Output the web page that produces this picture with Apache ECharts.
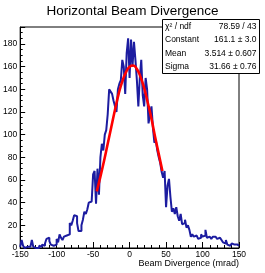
<!DOCTYPE html>
<html>
<head>
<meta charset="utf-8">
<script src="https://cdn.jsdelivr.net/npm/echarts@6/dist/echarts.min.js"></script>
<style>html,body{margin:0;padding:0;background:#fff}#c{width:265px;height:273px}</style>
</head>
<body>
<div id="c"></div>
<script>
// Histogram: 150 bins of 2 mrad from -150 to 150
const binLow = -150;
const binWidth = 2;
const counts = [
  1,7,2,0,1,0,1,0,7,1,
  0,1,0,2,1,3,2,4,8,9,
  6,3,2,1,3,8,5,12,9,7,
  10,11,12,12,22,20,24,29,28,22,
  15,15,20,25,32,30,34,40,41,40,
  65,68,39,70,47,80,92,86,100,104,
  118,140,138,136,130,125,120,140,145,148,
  166,160,136,172,185,150,184,160,182,166,
  148,125,150,166,135,125,150,140,110,118,
  125,106,93,95,86,80,75,67,62,68,
  36,55,61,45,32,35,30,36,28,24,
  30,21,22,25,18,20,16,10,12,10,
  11,12,8,9,12,10,11,16,9,10,
  9,8,10,10,9,8,9,8,7,5,
  4,7,3,2,1,4,3,2,3,2
];
// Fit curve
const fitX = [-45,-40,-35,-30,-25,-20,-15,-10,-5,0,5,10,15,20,25,30,35,40,45];
const fitY = [50,63,77,92,107,122,136,147,155,160,161,158,151,141,128,114,98,83,68];
// Stats box
const statNames = ['χ² / ndf', 'Constant', 'Mean', 'Sigma'];
const statValues = ['78.59 / 43', '161.1 ± 3.0', '3.514 ± 0.607', '31.66 ± 0.76'];
const titleText = 'Horizontal Beam Divergence';
const xTitle = 'Beam Divergence (mrad)';

const histData = counts.map((v, i) => [binLow + binWidth * i, v]);
histData.push([binLow + binWidth * counts.length, counts[counts.length - 1]]);
const fitData = fitX.map((x, i) => [x, fitY[i]]);

const FONT = '"Liberation Sans", Arial, Helvetica, sans-serif';
const chart = echarts.init(document.getElementById('c'), null, {renderer: 'canvas'});

const statGraphics = [{
  type: 'rect', shape: {x: 162.5, y: 19.5, width: 97, height: 54},
  style: {fill: '#fff', stroke: '#000', lineWidth: 1}, z: 100
}];
statNames.forEach((n, i) => {
  const y = 26.5 + i * 13.5;
  statGraphics.push({type: 'text', x: 165, y: y, z: 101,
    style: {text: n, fontSize: 8.5, fontFamily: FONT, fill: '#000', align: 'left', verticalAlign: 'middle'}});
  statGraphics.push({type: 'text', x: 256.5, y: y, z: 101,
    style: {text: statValues[i], fontSize: 8.5, fontFamily: FONT, fill: '#000', align: 'right', verticalAlign: 'middle'}});
});

chart.setOption({
  animation: false,
  backgroundColor: '#fff',
  title: {text: titleText, left: 'center', top: -1,
    textStyle: {fontSize: 13.5, fontWeight: 'normal', fontFamily: FONT, color: '#000'}},
  grid: {left: 20, top: 27, right: 26, bottom: 25, show: true, borderColor: '#000', borderWidth: 1, backgroundColor: 'transparent'},
  xAxis: {
    type: 'value', min: -150, max: 150, interval: 50,
    name: xTitle, nameLocation: 'end', nameGap: 0,
    nameTextStyle: {fontSize: 9, fontFamily: FONT, color: '#000', align: 'right', verticalAlign: 'top', padding: [11, 0, 0, 0]},
    axisLine: {show: true, onZero: false, lineStyle: {color: '#000', width: 1}},
    axisTick: {show: true, inside: true, length: 6, lineStyle: {color: '#000'}},
    minorTick: {show: true, splitNumber: 5, length: 3, lineStyle: {color: '#000'}},
    axisLabel: {fontSize: 8.5, fontFamily: FONT, color: '#000', margin: 2},
    splitLine: {show: false}
  },
  yAxis: {
    type: 'value', min: 0, max: 195, interval: 20,
    axisLine: {show: true, onZero: false, lineStyle: {color: '#000', width: 1}},
    axisTick: {show: true, inside: true, length: 5, lineStyle: {color: '#000'}},
    minorTick: {show: true, splitNumber: 4, length: 2.5, lineStyle: {color: '#000'}},
    axisLabel: {fontSize: 8.5, fontFamily: FONT, color: '#000', margin: 3, showMaxLabel: false},
    splitLine: {show: false}
  },
  series: [
    {type: 'line', step: 'end', data: histData, symbol: 'none',
      lineStyle: {color: '#1c1ca0', width: 2}, z: 2},
    {type: 'line', smooth: true, data: fitData, symbol: 'none',
      lineStyle: {color: '#ff0000', width: 2.6}, z: 3}
  ],
  graphic: statGraphics
});
</script>
</body>
</html>
